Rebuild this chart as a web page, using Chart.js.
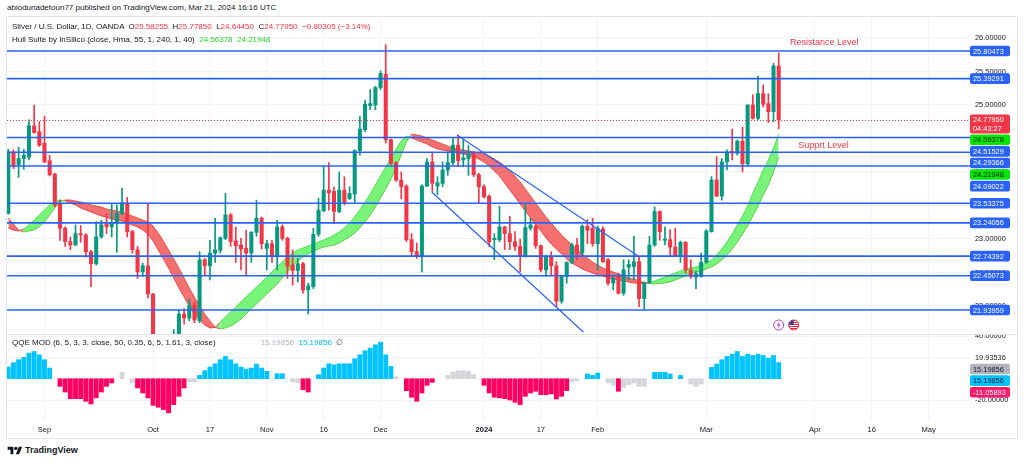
<!DOCTYPE html>
<html>
<head>
<meta charset="utf-8">
<title>Silver / U.S. Dollar, 1D, OANDA</title>
<script src="https://cdn.jsdelivr.net/npm/chart.js@4.4.1/dist/chart.umd.min.js"></script>
<style>
  html,body{margin:0;padding:0;background:#ffffff;}
  body{width:1024px;height:463px;position:relative;overflow:hidden;font-family:"Liberation Sans",Arial,sans-serif;color:#131722;}
  .txt{position:absolute;white-space:pre;font-size:8px;line-height:10px;}
  #frame{position:absolute;left:6px;top:16px;width:1012px;height:423px;border:1px solid #e0e3eb;box-sizing:border-box;}
  #sep{position:absolute;left:7px;top:334px;width:1010px;height:1px;background:#e0e3eb;}
  canvas{position:absolute;}
  #c1{left:7px;top:17px;width:1010px;height:318px;}
  #c2{left:7px;top:335px;width:1010px;height:103px;}
  .r{color:#f23645}
  .g{color:#1fd81f}
  .gr{color:#b2b5be}
  .bl{color:#00bcf2}
  #logoTxt{position:absolute;left:25px;top:445px;font-size:9px;font-weight:bold;color:#131722;white-space:pre;}
</style>
</head>
<body>
<div id="frame"></div>
<canvas id="c1" width="1010" height="318"></canvas>
<div id="sep"></div>
<canvas id="c2" width="1010" height="103"></canvas>
<div class="txt" id="hdr" style="left:7px;top:3px;">abiodunadetoun77 published on TradingView.com, Mar 21, 2024 16:16 UTC</div>
<div class="txt" id="leg1" style="left:12px;top:22px;"></div>
<div class="txt" id="leg2" style="left:12px;top:35px;"></div>
<div class="txt" id="leg3" style="left:12px;top:338px;"></div>
<svg style="position:absolute;left:7px;top:446px" width="16" height="9" viewBox="0 0 36 22">
  <path d="M14 20H7V9H0V2h14v18z" fill="#131722"/>
  <circle cx="20" cy="6" r="4" fill="#131722"/>
  <path d="M28 20h-8l7.5-18h8L28 20z" fill="#131722"/>
</svg>
<div id="logoTxt">TradingView</div>
<script>
// ---------------- DATA ----------------
const startDate = '2023-08-23';
const holidays = ['2023-12-25', '2024-01-01'];

const opens = [23.38,24.30,24.11,24.20,24.22,24.69,24.60,24.43,24.17,23.97,
23.53,23.16,22.96,22.91,23.08,23.06,22.81,22.63,23.03,23.23,
23.18,23.24,23.38,23.53,23.11,22.84,22.51,22.60,22.18,21.10,
20.95,21.05,20.98,21.50,21.88,21.82,22.01,21.78,22.69,22.60,
22.79,22.83,23.01,23.36,22.97,22.91,22.86,22.79,23.10,23.31,
22.86,22.93,22.74,23.18,23.01,22.61,22.53,22.63,22.24,22.29,
23.07,23.42,23.73,23.71,23.41,23.73,23.60,23.67,24.32,24.63,
24.99,25.00,25.26,25.46,24.48,24.14,23.88,23.79,22.99,22.81,
22.74,23.79,24.15,23.79,23.83,24.03,24.14,24.40,24.18,24.20,
24.28,23.96,23.78,23.64,22.99,22.99,23.18,23.08,22.96,22.89,
22.74,23.16,23.19,22.90,22.54,22.74,22.60,22.07,22.44,22.65,
22.91,22.79,23.19,23.16,22.93,23.15,22.69,22.34,22.43,22.19,
22.58,22.59,22.66,22.11,22.35,22.91,23.41,22.98,22.99,22.88,
22.75,22.95,22.54,22.43,22.44,22.65,23.11,23.88,23.64,24.15,
24.31,24.28,24.46,24.12,25.00,24.80,25.17,25.02,24.90,25.58255];

const highs = [24.34,24.33,24.37,24.34,24.78,25.00,24.75,24.83,24.25,23.98,
23.58,23.18,23.03,23.21,23.20,23.08,22.83,23.26,23.28,23.38,
23.53,23.51,23.76,23.62,23.13,22.89,22.64,23.53,22.19,21.22,
21.20,21.18,21.65,21.95,21.96,22.10,22.06,22.81,22.71,22.98,
23.31,23.03,23.68,23.38,23.18,23.01,23.13,23.11,23.58,23.33,
22.98,22.98,23.28,23.21,23.03,22.84,22.71,22.65,22.34,23.16,
23.61,24.08,24.14,23.78,24.00,23.93,23.78,24.33,24.83,25.07,
25.23,25.28,25.51,25.90,24.49,24.15,24.00,23.81,23.08,22.94,
23.81,24.20,24.28,23.93,24.15,24.30,24.50,24.55,24.48,24.40,
24.30,23.98,23.81,23.66,23.08,23.49,23.19,23.34,23.11,23.00,
23.51,23.31,23.21,22.91,22.76,22.81,22.66,22.46,22.66,22.94,
23.01,23.21,23.29,23.31,23.19,23.18,22.71,22.44,22.49,22.69,
22.69,23.04,22.74,22.36,23.04,23.48,23.42,23.18,23.14,23.16,
22.97,22.96,22.69,22.52,22.79,23.14,23.93,24.23,24.20,24.33,
24.64,24.48,24.67,25.00,25.15,25.43,25.30,25.17,25.62,25.7785];

const lows = [23.37,24.05,23.92,24.04,24.18,24.58,24.38,24.14,23.94,23.48,
22.98,22.89,22.84,22.90,22.95,22.73,22.29,22.61,23.01,23.08,
23.03,22.80,23.36,23.03,22.79,22.41,22.44,22.12,21.05,20.68,
20.85,20.85,20.82,21.45,21.73,21.78,21.75,21.75,22.46,22.39,
22.65,22.79,22.99,22.89,22.65,22.54,22.45,22.65,23.04,22.85,
22.54,22.65,22.54,22.98,22.41,22.31,22.36,22.19,21.88,22.26,
23.04,23.41,23.43,23.23,23.39,23.51,23.59,23.54,24.25,24.60,
24.93,24.93,25.23,24.43,24.10,23.86,23.60,22.96,22.74,22.71,
22.51,23.78,23.71,23.66,23.78,23.95,24.10,24.08,24.08,23.95,
23.93,23.53,23.61,22.89,22.69,22.96,22.84,22.84,22.83,22.51,
22.73,23.13,22.86,22.51,22.44,22.45,21.99,22.04,22.34,22.63,
22.69,22.76,22.93,22.89,22.54,22.65,22.31,22.24,22.18,22.16,
22.39,22.39,21.99,21.95,22.34,22.89,22.98,22.91,22.74,22.74,
22.65,22.49,22.41,22.26,22.43,22.64,23.10,23.63,23.58,24.03,
24.18,24.25,24.00,24.08,24.79,24.78,24.97,24.74,24.75,24.6445];

const closes = [24.30,24.08,24.20,24.25,24.69,24.59,24.40,24.15,23.96,23.51,
23.16,22.96,22.91,23.08,23.06,22.81,22.63,23.03,23.21,23.18,
23.24,23.38,23.54,23.11,22.84,22.51,22.60,22.18,21.10,20.95,
21.05,20.98,21.50,21.88,21.82,22.01,21.79,22.69,22.60,22.79,
22.84,23.02,23.36,22.96,22.90,22.85,22.79,23.10,23.31,22.93,
22.93,22.74,23.18,23.01,22.59,22.53,22.63,22.24,22.30,23.07,
23.43,23.73,23.69,23.41,23.73,23.54,23.68,24.32,24.64,25.01,
25.02,25.26,25.47,24.48,24.13,23.88,23.78,22.99,22.81,22.74,
23.79,24.15,23.83,23.84,24.03,24.14,24.40,24.17,24.21,24.27,
23.96,23.78,23.63,22.96,23.01,23.18,23.08,22.96,22.89,22.74,
23.17,23.21,22.90,22.54,22.74,22.60,22.07,22.44,22.65,22.91,
22.79,23.19,23.13,22.93,23.16,22.66,22.34,22.41,22.19,22.54,
22.62,22.66,22.11,22.35,22.91,23.41,23.11,23.00,22.88,22.75,
22.95,22.54,22.44,22.48,22.65,23.12,23.88,23.64,24.15,24.30,
24.28,24.46,24.12,25.00,24.80,25.17,25.01,24.90,25.58255,24.7795];

// Hull Suite (HMA 55) band: main hull and its 2-bar lag
const hullMain = [23.164,23.134,23.119,23.149,23.209,23.283,23.358,23.433,23.507,23.552,
23.582,23.567,23.537,23.507,23.463,23.433,23.403,23.373,23.343,23.328,
23.298,23.283,23.268,23.239,23.209,23.179,23.134,23.074,22.970,22.836,
22.701,22.567,22.418,22.268,22.134,22.000,21.880,21.791,21.716,21.672,
21.680,21.761,21.836,21.910,21.985,22.060,22.134,22.209,22.283,22.358,
22.433,22.507,22.582,22.657,22.731,22.791,22.836,22.865,22.895,22.925,
22.955,22.985,23.015,23.060,23.104,23.164,23.239,23.328,23.433,23.552,
23.671,23.806,23.940,24.074,24.209,24.343,24.463,24.537,24.507,24.477,
24.448,24.418,24.373,24.343,24.328,24.313,24.298,24.283,24.268,24.254,
24.224,24.194,24.149,24.089,24.015,23.940,23.836,23.731,23.627,23.522,
23.418,23.313,23.209,23.119,23.015,22.925,22.851,22.776,22.701,22.642,
22.597,22.552,22.522,22.492,22.463,22.448,22.418,22.403,22.388,22.373,
22.358,22.343,22.336,22.336,22.351,22.373,22.403,22.433,22.463,22.492,
22.522,22.552,22.567,22.582,22.612,22.642,22.686,22.761,22.851,22.955,
23.074,23.209,23.343,23.492,23.686,23.851,24.030,24.179,24.358,24.56378];

const hullLag = [23.313,23.224,23.134,23.104,23.119,23.134,23.179,23.254,23.358,23.463,
23.552,23.582,23.582,23.567,23.552,23.537,23.507,23.492,23.477,23.448,
23.433,23.418,23.403,23.373,23.343,23.313,23.283,23.254,23.194,23.089,
22.970,22.836,22.701,22.567,22.418,22.268,22.134,22.000,21.880,21.776,
21.683,21.657,21.672,21.701,21.746,21.806,21.880,21.955,22.030,22.104,
22.179,22.254,22.328,22.418,22.507,22.597,22.671,22.731,22.776,22.821,
22.851,22.880,22.895,22.910,22.940,22.985,23.030,23.089,23.164,23.254,
23.358,23.477,23.612,23.746,23.895,24.060,24.254,24.448,24.567,24.552,
24.537,24.507,24.477,24.448,24.418,24.388,24.358,24.343,24.328,24.313,
24.298,24.283,24.268,24.239,24.194,24.149,24.089,24.015,23.940,23.851,
23.746,23.642,23.537,23.433,23.328,23.239,23.149,23.060,22.985,22.910,
22.836,22.776,22.716,22.657,22.612,22.567,22.537,22.507,22.477,22.448,
22.418,22.403,22.373,22.351,22.336,22.328,22.336,22.343,22.358,22.388,
22.418,22.448,22.477,22.507,22.522,22.552,22.582,22.627,22.686,22.761,
22.851,22.955,23.074,23.194,23.343,23.492,23.657,23.806,24.000,24.21948];

// QQE MOD histogram (null = no bar) and bar colour state: b blue, r red, g grey
const qqeValues = [10.9,15,17.8,20,24,25.5,22.4,17.8,10,
null,
-7.2,-12.5,-18.7,-18.7,-18.7,-21.2,-23.7,-18,-12.5,-7.2,-4,
null,
6,null,-4,
-8.7,-13.4,-18,-25,-26.8,-29,-32,-24.3,-16.5,-8.7,
-3,-3,
3.1,7.5,10.9,14,17.8,20.9,17.8,14,10.9,9,10,13.7,10,6.9,
null,4.7,4.7,null,-3,-4,-10.3,-12.5,null,
3.7,10,14,13,14,14,14,18.7,22.4,26.2,28.7,31.8,34.3,22.4,11.5,
2,null,
-11.2,-17.4,-21.2,-13.4,-6.2,-3.4,
null,null,
3.1,6.2,7.5,7.5,6.9,3.7,
null,
-6.2,-13.4,-17.4,-18,-18.7,-20,-22.1,-24.3,-16.5,-13.4,-11.8,-15,-15,-14.3,-19,-16.5,-11.2,
-3,-2,null,
4.4,3.1,5.3,null,
-4,-6.2,-11.8,-8.1,-5.6,-4,-7.2,-7.2,
null,5.9,5.9,5.9,4.4,null,3.1,null,
-5,-7.2,-5,null,
10.6,13.7,17.8,20.9,23,25.5,20.9,23,21.8,23,21.8,19.3,21.8,15.19856];
const qqeStates = ('bbbbbbbbb.rrrrrrrrrrr.g.grrrrrrrrrrggbbbbbbbbbbbbbb.bb.ggrr.' +
  'bbbbbbbbbbbbbbbg.rrrrrr..gggggg.rrrrrrrrrrrrrrrrrgg.bbb.ggrggggg.bbbb.b.ggg.bbbbbbbbbbbbbb').split('');
const qqeLine = 19.93536;
const qqeSignal = -11.05893;

// drawn horizontal levels
const levelPrices = [25.80473, 25.39291, 24.51529, 24.29366, 24.09022, 23.53375, 23.24056, 22.74392, 22.45073, 21.93959];
// falling channel lines (bar index, price)
const channelUpperIdx = [86.8, 121.8];
const channelUpperPrice = [24.552, 22.746];
const channelLowerIdx = [81.9, 111.2];
const channelLowerPrice = [23.701, 21.612];
// text notes (bar index, price)
const noteTexts = ['Resistance Level', 'Supprt Level'];
const noteIdx = [151.2, 152.8];
const notePrices = [25.925, 24.388];

// axis ticks
const priceTicks = [22, 22.5, 23, 23.5, 24, 24.5, 25, 25.5, 26];
const qqeGrid = [40, 20, -20];
const qqeTickLabels = [40, -20];
const tickDates = ['2023-09-01','2023-10-02','2023-10-17','2023-11-01','2023-11-16','2023-12-01',
  '2024-01-02','2024-01-17','2024-02-01','2024-03-01','2024-04-01','2024-04-16','2024-05-01'];
const tickTexts = ['Sep','Oct','17','Nov','16','Dec','2024','17','Feb','Mar','Apr','16','May'];

// ---------------- STYLE / LAYOUT ----------------
const UP = '#089981', DOWN = '#f23645', LEVEL = '#2962ff', LIME = '#00e600';
const HULL_UP = 'rgba(40,235,40,0.62)', HULL_DN = 'rgba(240,45,45,0.68)';
const HULL_UP_L = 'rgba(40,225,40,0.8)', HULL_DN_L = 'rgba(235,45,45,0.8)';
const QQE_BLUE = '#00c3ff', QQE_RED = '#ff0062', QQE_GREY = 'rgba(178,181,190,0.55)';
const GRID = '#f0f3fa';
const FONT = '"Liberation Sans", Arial, sans-serif';
const axisW = 47;
const xMin = -0.25, xMax = 186.0;
const priceMin = 21.567, priceMax = 26.313;
const qqeMin = -38.72, qqeMax = 40.97;

Chart.defaults.font.family = FONT;
Chart.defaults.color = '#131722';

// trading-day calendar for tick placement
function buildDays(start, count, skip) {
  const out = []; const d = new Date(start + 'T00:00:00Z');
  while (out.length < count) {
    const wd = d.getUTCDay(); const s = d.toISOString().slice(0, 10);
    if (wd !== 0 && wd !== 6 && !skip.includes(s)) out.push(s);
    d.setUTCDate(d.getUTCDate() + 1);
  }
  return out;
}
const days = buildDays(startDate, 200, holidays);
const tickIdx = tickDates.map(t => days.indexOf(t));

const last = opens.length - 1;
const candleColors = opens.map((o, i) => closes[i] >= o ? UP : DOWN);
const bodyData = opens.map((o, i) => ({x: i, y: [o, closes[i]]}));
const wickData = opens.map((o, i) => ({x: i, y: [lows[i], highs[i]]}));
const hullColor = i => hullMain[i] >= hullLag[i] ? HULL_UP_L : HULL_DN_L;

// legends
const fmt = v => v.toFixed(5);
const chg = closes[last] - closes[last - 1];
const pct = chg / closes[last - 1] * 100;
const sgn = v => (v < 0 ? '\u2212' : '+');
document.getElementById('leg1').innerHTML =
  'Silver / U.S. Dollar, 1D, OANDA  O<span class="r">' + fmt(opens[last]) + '</span>  H<span class="r">' + fmt(highs[last]) +
  '</span>  L<span class="r">' + fmt(lows[last]) + '</span>  C<span class="r">' + fmt(closes[last]) + '</span>  <span class="r">' +
  sgn(chg) + fmt(Math.abs(chg)) + ' (' + sgn(pct) + Math.abs(pct).toFixed(2) + '%)</span>';
document.getElementById('leg2').innerHTML =
  'Hull Suite by InSilico (close, Hma, 55, 1, 240, 1, 40)  <span class="g">' + fmt(hullMain[last]) + '</span>  <span class="g">' + fmt(hullLag[last]) + '</span>';
document.getElementById('leg3').innerHTML =
  'QQE MOD (6, 5, 3, 3, close, 50, 0.35, 6, 5, 1.61, 3, close)<span class="gr" style="margin-left:45px">' + fmt(qqeValues[last]) +
  '</span>  <span class="bl">' + fmt(qqeValues[last]) + '</span>  <span style="color:#50535e">\u2205</span>';

// ---------------- helpers ----------------
function boxPath(ctx, l, t, w, h) {
  ctx.beginPath();
  if (ctx.roundRect) ctx.roundRect(l, t, w, h, 2); else ctx.rect(l, t, w, h);
}
function drawTickTexts(chart, values) {
  const {ctx, chartArea: a} = chart; const y = chart.scales.y;
  ctx.save();
  ctx.font = '7.4px ' + FONT; ctx.textBaseline = 'middle'; ctx.textAlign = 'left'; ctx.fillStyle = '#131722';
  values.forEach(v => ctx.fillText(fmt(v), a.right + 5, y.getPixelForValue(v)));
  ctx.restore();
}
function drawStackedLabels(chart, items) {
  const {ctx, chartArea: a} = chart; const y = chart.scales.y;
  const h = 10.6, gap = 1;
  const list = items.map((it, k) => Object.assign({}, it, {c: y.getPixelForValue(it.v), k}))
    .sort((p, q) => (p.c - q.c) || (p.k - q.k));
  let prevBottom = -1e9;
  ctx.save();
  ctx.font = '7.4px ' + FONT; ctx.textBaseline = 'middle'; ctx.textAlign = 'left';
  list.forEach(it => {
    const hh = it.sub ? 19 : h;
    const top = Math.max(it.c - h / 2, prevBottom + gap);
    prevBottom = top + hh;
    if (it.bg) { ctx.fillStyle = it.bg; boxPath(ctx, a.right, top, 40, hh); ctx.fill(); }
    ctx.fillStyle = it.fg;
    ctx.fillText(it.text, a.right + (it.bg ? 3 : 5), top + h / 2 + 0.5);
    if (it.sub) ctx.fillText(it.sub, a.right + 3, top + h / 2 + 9);
  });
  ctx.restore();
}

const mainOverlay = {
  id: 'mainOverlay',
  afterDatasetsDraw(chart) {
    const {ctx, chartArea: a, scales: {x, y}} = chart;
    ctx.save();
    ctx.beginPath(); ctx.rect(a.left, a.top, a.right - a.left, a.bottom - a.top); ctx.clip();
    // last price dotted line
    ctx.strokeStyle = DOWN; ctx.lineWidth = 1; ctx.setLineDash([1, 2]);
    let py = Math.round(y.getPixelForValue(closes[last])) + 0.5;
    ctx.beginPath(); ctx.moveTo(a.left, py); ctx.lineTo(a.right, py); ctx.stroke();
    ctx.setLineDash([]);
    // horizontal levels
    ctx.strokeStyle = LEVEL; ctx.lineWidth = 1.6;
    levelPrices.forEach(p => {
      const yy = y.getPixelForValue(p);
      ctx.beginPath(); ctx.moveTo(a.left, yy); ctx.lineTo(a.right, yy); ctx.stroke();
    });
    // notes
    ctx.fillStyle = DOWN; ctx.font = '9px ' + FONT; ctx.textBaseline = 'middle'; ctx.textAlign = 'left';
    noteTexts.forEach((t, k) => ctx.fillText(t, x.getPixelForValue(noteIdx[k]), y.getPixelForValue(notePrices[k])));
    // event icons at the bottom, under the last bar
    const ix = x.getPixelForValue(last), iy = a.bottom - 10;
    ctx.lineWidth = 1; ctx.strokeStyle = '#b03ad0'; ctx.fillStyle = '#ffffff';
    ctx.beginPath(); ctx.arc(ix, iy, 5, 0, Math.PI * 2); ctx.fill(); ctx.stroke();
    ctx.fillStyle = '#b03ad0';
    ctx.beginPath(); ctx.moveTo(ix + 1, iy - 3.5); ctx.lineTo(ix - 2, iy + 0.5); ctx.lineTo(ix, iy + 0.5);
    ctx.lineTo(ix - 1, iy + 3.5); ctx.lineTo(ix + 2, iy - 0.5); ctx.lineTo(ix, iy - 0.5); ctx.closePath(); ctx.fill();
    const fx = ix + 15;
    ctx.save();
    ctx.beginPath(); ctx.arc(fx, iy, 5, 0, Math.PI * 2); ctx.clip();
    ctx.fillStyle = '#ffffff'; ctx.fillRect(fx - 5, iy - 5, 10, 10);
    ctx.fillStyle = '#e0283c';
    for (let s = 0; s < 5; s++) ctx.fillRect(fx - 5, iy - 5 + s * 2, 10, 1);
    ctx.fillStyle = '#2a3f9a'; ctx.fillRect(fx - 5, iy - 5, 5, 5);
    ctx.restore();
    ctx.strokeStyle = '#e0283c'; ctx.beginPath(); ctx.arc(fx, iy, 5, 0, Math.PI * 2); ctx.stroke();
    ctx.restore();
  },
  afterDraw(chart) {
    drawTickTexts(chart, priceTicks);
    const items = levelPrices.map(p => ({v: p, text: fmt(p), bg: LEVEL, fg: '#ffffff'}));
    items.push({v: closes[last], text: fmt(closes[last]), sub: '04:43:27', bg: DOWN, fg: '#ffffff'});
    items.push({v: hullMain[last], text: fmt(hullMain[last]), bg: LIME, fg: '#131722'});
    items.push({v: hullLag[last], text: fmt(hullLag[last]), bg: LIME, fg: '#131722'});
    drawStackedLabels(chart, items);
  }
};

const qqeOverlay = {
  id: 'qqeOverlay',
  afterDraw(chart) {
    drawTickTexts(chart, qqeTickLabels);
    drawStackedLabels(chart, [
      {v: qqeLine, text: fmt(qqeLine), bg: null, fg: '#131722'},
      {v: qqeValues[last], text: fmt(qqeValues[last]), bg: '#b2b5be', fg: '#131722'},
      {v: qqeValues[last], text: fmt(qqeValues[last]), bg: QQE_BLUE, fg: '#131722'},
      {v: qqeSignal, text: fmt(qqeSignal), bg: '#ff1a6a', fg: '#ffffff'}
    ]);
  }
};

// ---------------- MAIN PRICE PANE ----------------
new Chart(document.getElementById('c1'), {
  type: 'bar',
  data: {
    datasets: [
      {type: 'line', label: 'Hull', data: hullMain.map((v, i) => ({x: i, y: v})), borderColor: HULL_UP_L, borderWidth: 1,
       pointRadius: 0, tension: 0, fill: {target: 1, above: HULL_UP, below: HULL_DN},
       segment: {borderColor: c => hullColor(c.p0DataIndex)}, order: 10, clip: 0},
      {type: 'line', label: 'Hull lag', data: hullLag.map((v, i) => ({x: i, y: v})), borderColor: HULL_UP_L, borderWidth: 1,
       pointRadius: 0, tension: 0, fill: false,
       segment: {borderColor: c => hullColor(c.p0DataIndex)}, order: 10, clip: 0},
      {label: 'wick', data: wickData, backgroundColor: candleColors, barThickness: 1, grouped: false, order: 5, clip: 0},
      {label: 'body', data: bodyData, backgroundColor: candleColors, barThickness: 3.4, minBarLength: 1, grouped: false, order: 4, clip: 0},
      {type: 'line', label: 'channel upper', data: channelUpperIdx.map((v, k) => ({x: v, y: channelUpperPrice[k]})),
       borderColor: LEVEL, borderWidth: 1.2, pointRadius: 0, fill: false, order: 1, clip: 0},
      {type: 'line', label: 'channel lower', data: channelLowerIdx.map((v, k) => ({x: v, y: channelLowerPrice[k]})),
       borderColor: LEVEL, borderWidth: 1.2, pointRadius: 0, fill: false, order: 1, clip: 0}
    ]
  },
  options: {
    responsive: false, animation: false, events: [],
    layout: {padding: 0, autoPadding: false},
    plugins: {legend: {display: false}, tooltip: {enabled: false}},
    scales: {
      x: {type: 'linear', min: xMin, max: xMax, offset: false,
          grid: {color: GRID, drawTicks: false, offset: false}, border: {display: false},
          ticks: {display: false},
          afterBuildTicks: s => { s.ticks = tickIdx.map(v => ({value: v})); },
          afterFit: s => { s.height = 0; }},
      y: {type: 'linear', position: 'right', min: priceMin, max: priceMax,
          grid: {color: GRID, drawTicks: false}, border: {display: false},
          ticks: {display: false},
          afterBuildTicks: s => { s.ticks = priceTicks.map(v => ({value: v})); },
          afterFit: s => { s.width = axisW; }}
    }
  },
  plugins: [mainOverlay]
});

// ---------------- QQE PANE ----------------
const qqeData = [], qqeColors = [];
qqeValues.forEach((v, i) => {
  if (v === null) return;
  qqeData.push({x: i, y: v});
  const s = qqeStates[i];
  qqeColors.push(s === 'b' ? QQE_BLUE : s === 'r' ? QQE_RED : QQE_GREY);
});

new Chart(document.getElementById('c2'), {
  type: 'bar',
  data: {datasets: [{label: 'QQE MOD', data: qqeData, backgroundColor: qqeColors, barThickness: 4.2, grouped: false, clip: 0}]},
  options: {
    responsive: false, animation: false, events: [],
    layout: {padding: 0, autoPadding: false},
    plugins: {legend: {display: false}, tooltip: {enabled: false}},
    scales: {
      x: {type: 'linear', min: xMin, max: xMax, offset: false,
          grid: {color: GRID, drawTicks: false, offset: false}, border: {display: false},
          ticks: {autoSkip: false, maxRotation: 0, padding: 5, color: '#131722',
                  font: c => ({size: 7.6, weight: (c.tick && tickTexts[tickIdx.indexOf(c.tick.value)] === '2024') ? 'bold' : 'normal'}),
                  callback: v => { const k = tickIdx.indexOf(v); return k >= 0 ? tickTexts[k] : ''; }},
          afterBuildTicks: s => { s.ticks = tickIdx.map(v => ({value: v})); },
          afterFit: s => { s.height = 18; }},
      y: {type: 'linear', position: 'right', min: qqeMin, max: qqeMax,
          grid: {color: GRID, drawTicks: false}, border: {display: false},
          ticks: {display: false},
          afterBuildTicks: s => { s.ticks = qqeGrid.map(v => ({value: v})); },
          afterFit: s => { s.width = axisW; }}
    }
  },
  plugins: [qqeOverlay]
});
</script>
</body>
</html>
